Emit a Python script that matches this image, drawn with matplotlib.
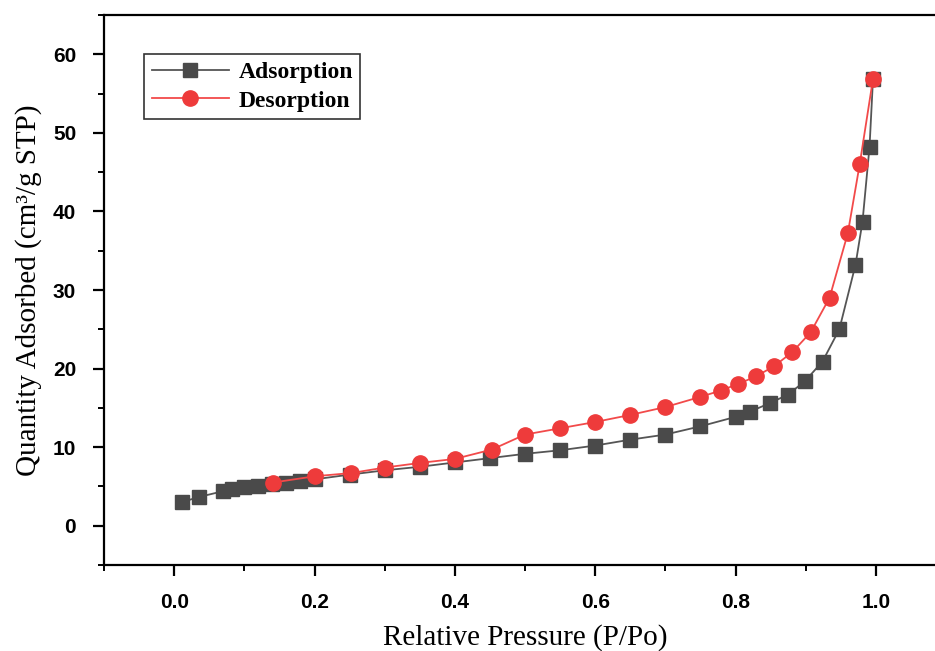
import matplotlib
matplotlib.use("Agg")
import matplotlib.pyplot as plt
from matplotlib.ticker import MultipleLocator

# Data
ads_p = [0.011, 0.035, 0.070, 0.083, 0.100, 0.120, 0.140, 0.160, 0.180, 0.200,
         0.250, 0.300, 0.350, 0.400, 0.450, 0.500, 0.550, 0.600, 0.650, 0.700,
         0.750, 0.800, 0.820, 0.849, 0.875, 0.899, 0.924, 0.948, 0.971, 0.981,
         0.991, 0.996]
ads_q = [3.0, 3.65, 4.4, 4.7, 4.9, 5.1, 5.3, 5.5, 5.7, 5.9,
         6.5, 7.05, 7.5, 8.05, 8.6, 9.15, 9.6, 10.2, 10.95, 11.6,
         12.65, 13.85, 14.5, 15.6, 16.7, 18.4, 20.9, 25.0, 33.2, 38.7,
         48.2, 56.9]

des_p = [0.996, 0.977, 0.960, 0.934, 0.907, 0.881, 0.855, 0.829, 0.804, 0.779,
         0.750, 0.700, 0.650, 0.600, 0.550, 0.500, 0.453, 0.400, 0.351, 0.300,
         0.252, 0.201, 0.141]
des_q = [56.9, 46.0, 37.2, 29.0, 24.6, 22.1, 20.3, 19.0, 18.05, 17.2,
         16.4, 15.1, 14.1, 13.2, 12.4, 11.6, 9.7, 8.5, 8.0, 7.4,
         6.7, 6.3, 5.5]

x_ticks = [0.0, 0.2, 0.4, 0.6, 0.8, 1.0]
y_ticks = [0, 10, 20, 30, 40, 50, 60]

fig = plt.figure(figsize=(9.35, 6.51), dpi=100)
ax = fig.add_axes([104/935, 86/651, 842/935, 550/651])

ax.plot(ads_p, ads_q, color='#555555', lw=1.3, marker='s', ms=10,
        mfc='#4a4a4a', mec='#4a4a4a', label='Adsorption', zorder=3)
ax.plot(des_p, des_q, color='#f24a4a', lw=1.3, marker='o', ms=11,
        mfc='#ee3b3b', mec='#ee3b3b', label='Desorption', zorder=4)

ax.set_xlim(-0.1, 1.1)
ax.set_ylim(-5, 65)
ax.set_xticks(x_ticks)
ax.set_yticks(y_ticks)
ax.set_xticklabels([f"{v:.1f}" for v in x_ticks])
ax.set_yticklabels([str(v) for v in y_ticks])
ax.xaxis.set_minor_locator(MultipleLocator(0.1))
ax.yaxis.set_minor_locator(MultipleLocator(5))

for s in ax.spines.values():
    s.set_linewidth(1.6)
ax.tick_params(which='major', direction='out', length=8, width=1.6)
ax.tick_params(axis='x', which='major', pad=12)
ax.tick_params(axis='y', which='major', pad=12)
ax.tick_params(which='minor', direction='out', length=4, width=1.4)
ax.tick_params(top=False, right=False)

for lab in ax.get_xticklabels() + ax.get_yticklabels():
    lab.set_fontfamily('Liberation Sans')
    lab.set_fontweight('bold')
    lab.set_fontsize(15)

ax.set_xlabel('Relative Pressure (P/Po)', fontfamily='Liberation Serif',
              fontsize=21, labelpad=9)
ax.set_ylabel('Quantity Adsorbed (cm³/g STP)', fontfamily='Liberation Serif',
              fontsize=21, labelpad=8)

leg = ax.legend(loc='upper left', bbox_to_anchor=(0.034, 0.95), frameon=True,
                fancybox=False, edgecolor='black', handlelength=3.3,
                borderpad=0.3, labelspacing=0.3, handletextpad=0.4,
                prop={'family': 'Liberation Serif', 'weight': 'bold', 'size': 17})
leg.get_frame().set_linewidth(1.2)

fig.savefig('out.png', dpi=100)
